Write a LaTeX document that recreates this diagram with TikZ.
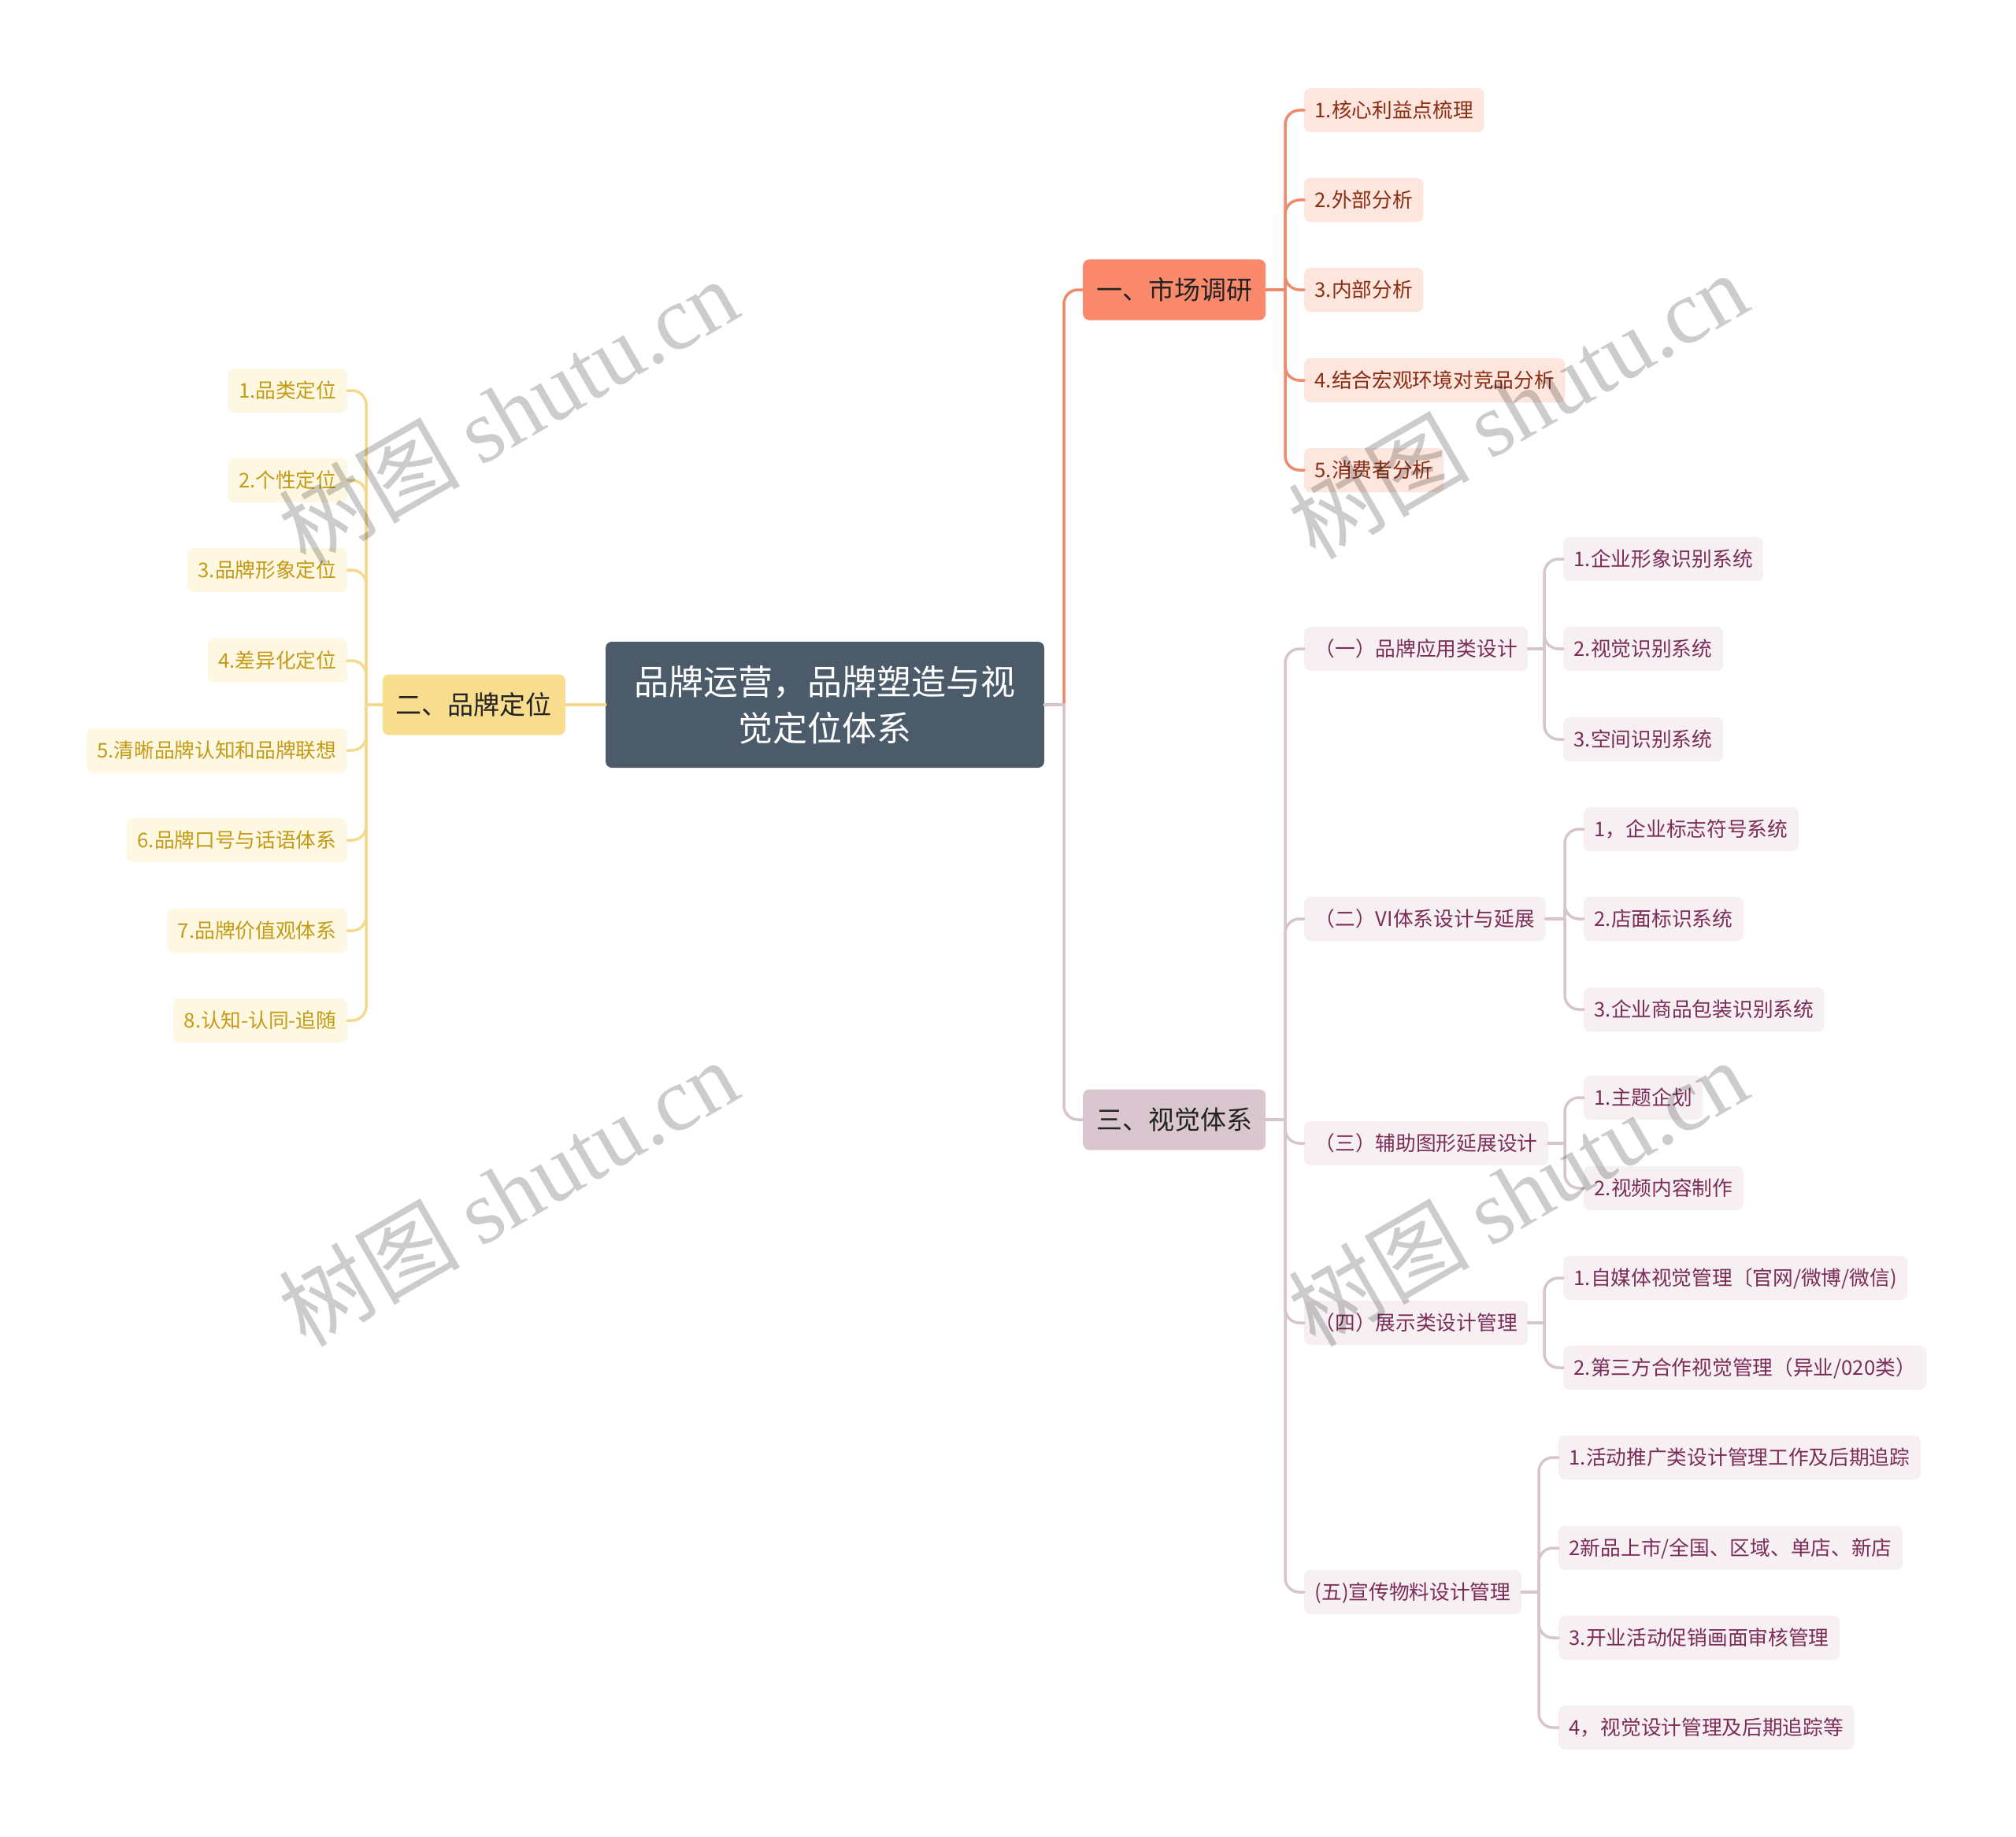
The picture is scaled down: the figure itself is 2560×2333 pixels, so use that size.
\documentclass[tikz,border=0pt]{standalone}
\usepackage{fontspec}
\setmainfont{Noto Sans CJK SC}
\newfontfamily\wmlatin{Liberation Serif}
\usetikzlibrary{calc}
\definecolor{rootc}{HTML}{4B5B6A}
\definecolor{bonefill}{HTML}{FA8A6B}
\definecolor{bonel}{HTML}{EE8A6E}
\definecolor{btwofill}{HTML}{F8DD8F}
\definecolor{btwol}{HTML}{F5D98C}
\definecolor{bthrfill}{HTML}{D9C6CE}
\definecolor{bthrl}{HTML}{D6C5CC}
\definecolor{lonefill}{HTML}{FDE6DE}
\definecolor{lonetext}{HTML}{8B2D12}
\definecolor{ltwofill}{HTML}{FEF7E1}
\definecolor{ltwotext}{HTML}{C39B16}
\definecolor{lthrfill}{HTML}{F7F0F3}
\definecolor{lthrtext}{HTML}{7B2D58}
\definecolor{brtext}{HTML}{222222}
\begin{document}
\begin{tikzpicture}[x=1pt,y=-1pt,
  rootbox/.style={fill=rootc, rounded corners=8pt, text=white,
    font=\fontsize{44}{59}\selectfont, align=center,
    minimum width=557pt, minimum height=160pt, inner sep=0pt},
  brbox/.style={rounded corners=8pt, font=\fontsize{33}{40}\selectfont,
    text=brtext, inner xsep=17pt, inner ysep=0pt, minimum height=77pt,
    text height=29pt, text depth=4pt},
  leaf/.style={rounded corners=8pt, font=\fontsize{25.7}{30}\selectfont,
    inner xsep=13.5pt, inner ysep=0pt, minimum height=56pt,
    text height=22.6pt, text depth=3.1pt},
  lone/.style={leaf, fill=lonefill, text=lonetext, anchor=west},
  ltwo/.style={leaf, fill=ltwofill, text=ltwotext, anchor=east},
  lthr/.style={leaf, fill=lthrfill, text=lthrtext, anchor=west},
  conn/.style={line width=3.5pt, line cap=round, rounded corners=18pt},
  cone/.style={conn, draw=bonel},
  ctwo/.style={conn, draw=btwol},
  cthr/.style={conn, draw=bthrl},
  wm/.style={rotate=30, text=black, text opacity=0.2,
    font=\fontsize{115}{120}\selectfont, inner sep=0pt}
]
\useasboundingbox (0,0) rectangle (2560,2333);
\fill[white] (0,0) rectangle (2560,2333);

% root and main branches
\node[rootbox] (root) at (1047.5,895) {品牌运营，品牌塑造与视\\觉定位体系};
\node[brbox, fill=bonefill, anchor=west] (b1) at (1375,368) {一、市场调研};
\node[brbox, fill=btwofill, anchor=east] (b2) at (718,895) {二、品牌定位};
\node[brbox, fill=bthrfill, anchor=west] (b3) at (1375,1422) {三、视觉体系};

% branch 1 leaves
\node[lone] (a1) at (1656,140) {1.核心利益点梳理};
\node[lone] (a2) at (1656,254) {2.外部分析};
\node[lone] (a3) at (1656,368) {3.内部分析};
\node[lone] (a4) at (1656,483) {4.结合宏观环境对竞品分析};
\node[lone] (a5) at (1656,597) {5.消费者分析};

% branch 2 leaves
\node[ltwo] (p1) at (441,496) {1.品类定位};
\node[ltwo] (p2) at (441,610) {2.个性定位};
\node[ltwo] (p3) at (441,724) {3.品牌形象定位};
\node[ltwo] (p4) at (441,839) {4.差异化定位};
\node[ltwo] (p5) at (441,953) {5.清晰品牌认知和品牌联想};
\node[ltwo] (p6) at (441,1067) {6.品牌口号与话语体系};
\node[ltwo] (p7) at (441,1182) {7.品牌价值观体系};
\node[ltwo] (p8) at (441,1296) {8.认知-认同-追随};

% branch 3 sub-branches
\node[lthr] (s1) at (1656,824) {（一）品牌应用类设计};
\node[lthr] (s2) at (1656,1167) {（二）VI体系设计与延展};
\node[lthr] (s3) at (1656,1452) {（三）辅助图形延展设计};
\node[lthr] (s4) at (1656,1680) {（四）展示类设计管理};
\node[lthr] (s5) at (1656,2022) {(五)宣传物料设计管理};

% level 3
\node[lthr] (s11) at (1985,710) {1.企业形象识别系统};
\node[lthr] (s12) at (1985,824) {2.视觉识别系统};
\node[lthr] (s13) at (1985,939) {3.空间识别系统};
\node[lthr] (s21) at (2011,1053) {1，企业标志符号系统};
\node[lthr] (s22) at (2011,1167) {2.店面标识系统};
\node[lthr] (s23) at (2011,1282) {3.企业商品包装识别系统};
\node[lthr] (s31) at (2011,1394) {1.主题企划};
\node[lthr] (s32) at (2011,1509) {2.视频内容制作};
\node[lthr] (s41) at (1985,1623) {1.自媒体视觉管理〔官网/微博/微信)};
\node[lthr] (s42) at (1985,1737) {2.第三方合作视觉管理（异业/020类）};
\node[lthr] (s51) at (1979,1851) {1.活动推广类设计管理工作及后期追踪};
\node[lthr] (s52) at (1979,1966) {2新品上市/全国、区域、单店、新店};
\node[lthr] (s53) at (1979,2080) {3.开业活动促销画面审核管理};
\node[lthr] (s54) at (1979,2194) {4，视觉设计管理及后期追踪等};

% junction coordinates
\coordinate (jr) at (1351,895);
\coordinate (j1) at (1632,368);
\coordinate (j2) at (465,895);
\coordinate (j3) at (1632,1422);
\coordinate (js1) at (1961,824);
\coordinate (js2) at (1987,1167);
\coordinate (js3) at (1987,1452);
\coordinate (js4) at (1961,1680);
\coordinate (js5) at (1954,2022);

% root connectors
\draw[cone] (jr) |- (b1.west);
\draw[cthr] (jr) |- (b3.west);
\draw[cthr, rounded corners=0pt] (root.east) -- (jr);
\draw[ctwo] (root.west) -- (b2.east);

% branch 1
\draw[cone] (b1.east) -- (j1);
\foreach \n in {a1,a2,a3,a4,a5} \draw[cone] (j1) |- (\n.west);
% branch 2
\draw[ctwo] (b2.west) -- (j2);
\foreach \n in {p1,p2,p3,p4,p5,p6,p7,p8} \draw[ctwo] (j2) |- (\n.east);
% branch 3
\draw[cthr] (b3.east) -- (j3);
\foreach \n in {s1,s2,s3,s4,s5} \draw[cthr] (j3) |- (\n.west);
\draw[cthr] (s1.east) -- (js1);
\foreach \n in {s11,s12,s13} \draw[cthr] (js1) |- (\n.west);
\draw[cthr] (s2.east) -- (js2);
\foreach \n in {s21,s22,s23} \draw[cthr] (js2) |- (\n.west);
\draw[cthr] (s3.east) -- (js3);
\foreach \n in {s31,s32} \draw[cthr] (js3) |- (\n.west);
\draw[cthr] (s4.east) -- (js4);
\foreach \n in {s41,s42} \draw[cthr] (js4) |- (\n.west);
\draw[cthr] (s5.east) -- (js5);
\foreach \n in {s51,s52,s53,s54} \draw[cthr] (js5) |- (\n.west);

% watermarks
\node[wm] (w1) at (645,522) {树图 {\wmlatin shutu.cn}};
\node[wm] (w2) at (1927,514) {树图 {\wmlatin shutu.cn}};
\node[wm] (w3) at (645,1514) {树图 {\wmlatin shutu.cn}};
\node[wm] (w4) at (1927,1514) {树图 {\wmlatin shutu.cn}};
\end{tikzpicture}
\end{document}
